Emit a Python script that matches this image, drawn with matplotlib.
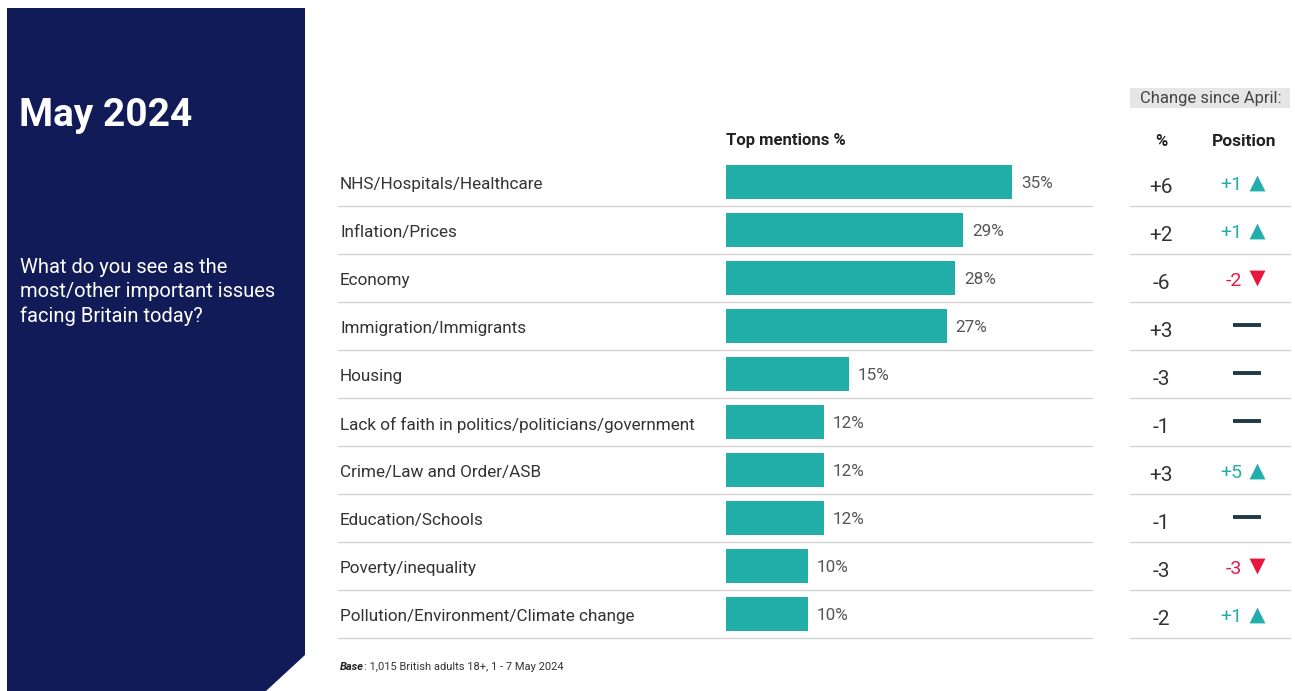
import matplotlib
matplotlib.use("Agg")
import matplotlib.pyplot as plt
from matplotlib.patches import Polygon, Rectangle

plt.rcParams['font.family'] = ['Roboto', 'DejaVu Sans']

categories = ["NHS/Hospitals/Healthcare", "Inflation/Prices", "Economy",
              "Immigration/Immigrants", "Housing",
              "Lack of faith in politics/politicians/government",
              "Crime/Law and Order/ASB", "Education/Schools",
              "Poverty/inequality", "Pollution/Environment/Climate change"]
values = [35, 29, 28, 27, 15, 12, 12, 12, 10, 10]
change_pct = ["+6", "+2", "-6", "+3", "-3", "-1", "+3", "-1", "-3", "-2"]
position_change = [1, 1, -2, 0, 0, 0, 5, 0, -3, 1]

W, H = 1295, 691
NAVY = "#111b57"
TEAL = "#21aea9"
RED = "#e8173f"
DASH = "#1f3a48"
TEXT = "#333333"
GRID = "#d4d4d4"

fig = plt.figure(figsize=(W / 100, H / 100), dpi=100)

def fx(x):
    return x / W

def fy(y):
    return 1 - y / H

# Navy side panel with cut corner
panel = Polygon([(fx(7), fy(8)), (fx(305), fy(8)), (fx(305), fy(655)),
                 (fx(266), fy(691)), (fx(7), fy(691))],
                closed=True, transform=fig.transFigure, facecolor=NAVY,
                edgecolor="none")
fig.patches.append(panel)
fig.text(fx(19), fy(115), "May 2024", color="white", fontsize=28,
         fontweight="bold", va="center", ha="left")
fig.text(fx(20), fy(292), "What do you see as the\nmost/other important issues\nfacing Britain today?",
         color="white", fontsize=14.5, va="center", ha="left", linespacing=1.32)

# Bar axes
px_per_pct = (1012 - 726) / 35.0
ax_left, ax_right = 338, 1092
ax_top, ax_bot = 158, 638
ax = fig.add_axes([fx(ax_left), fy(ax_bot), (ax_right - ax_left) / W, (ax_bot - ax_top) / H])
ax.set_xlim(-(726 - ax_left) / px_per_pct, (ax_right - 726) / px_per_pct)
n = len(categories)
ax.set_ylim(n - 0.5, -0.5)
ax.axis("off")
ypos = list(range(n))
ax.barh(ypos, values, height=34 / 48, color=TEAL, left=0)
xmin = ax.get_xlim()[0]
for i, (c, v) in enumerate(zip(categories, values)):
    ax.text(xmin + 2 / px_per_pct, i + 0.06, c, fontsize=12.3, color=TEXT,
            va="center", ha="left")
    ax.text(v + 9 / px_per_pct, i + 0.04, f"{v}%", fontsize=12.3, color="#555555",
            va="center", ha="left")
    ax.axhline(i + 0.5, color=GRID, lw=1, clip_on=False)

# Right table axes
tx0, tx1 = 1130, 1290
at = fig.add_axes([fx(tx0), fy(ax_bot), (tx1 - tx0) / W, (ax_bot - ax_top) / H])
at.set_xlim(tx0, tx1)
at.set_ylim(n - 0.5, -0.5)
at.axis("off")
for i, (cp, pc) in enumerate(zip(change_pct, position_change)):
    at.text(1161, i + 0.12, cp, fontsize=15, color=TEXT, va="center", ha="center")
    if pc > 0:
        at.text(1242, i + 0.07, f"+{pc}", fontsize=14, color=TEAL,
                va="center", ha="right")
        at.scatter([1257], [i + 0.02], marker="^", s=130, color=TEAL, linewidths=0)
    elif pc < 0:
        at.text(1242, i + 0.07, f"{pc}", fontsize=14, color=RED,
                va="center", ha="right")
        at.scatter([1257], [i + 0.0], marker="v", s=130, color=RED, linewidths=0)
    else:
        at.plot([1233, 1261], [i - 0.02, i - 0.02], color=DASH, lw=2.8, solid_capstyle="butt")
    at.axhline(i + 0.5, color=GRID, lw=1, clip_on=False)

# Headers
fig.text(fx(726), fy(141), "Top mentions %", fontsize=12, fontweight="bold",
         color="#222222", va="center", ha="left")
fig.text(fx(1161), fy(141), "%", fontsize=12, fontweight="bold",
         color="#222222", va="center", ha="center")
fig.text(fx(1244), fy(141), "Position", fontsize=12.5, fontweight="bold",
         color="#222222", va="center", ha="center")
box = Rectangle((fx(1130), fy(108)), (1290 - 1130) / W, 20 / H,
                transform=fig.transFigure, facecolor="#e6e6e6", edgecolor="none")
fig.patches.append(box)
fig.text(fx(1211), fy(99), "Change since April:", fontsize=12, color="#444444",
         va="center", ha="center")

# Footnote
t1 = fig.text(fx(340), fy(667), "Base", fontsize=8, fontweight="bold",
              fontstyle="italic", color="#222222", va="center", ha="left")
fig.canvas.draw()
bb = t1.get_window_extent(renderer=fig.canvas.get_renderer())
fig.text(bb.x1 / W, fy(667), ": 1,015 British adults 18+, 1 - 7 May 2024",
         fontsize=8, color="#333333", va="center", ha="left")

fig.savefig("out.png", dpi=100, facecolor="white")
